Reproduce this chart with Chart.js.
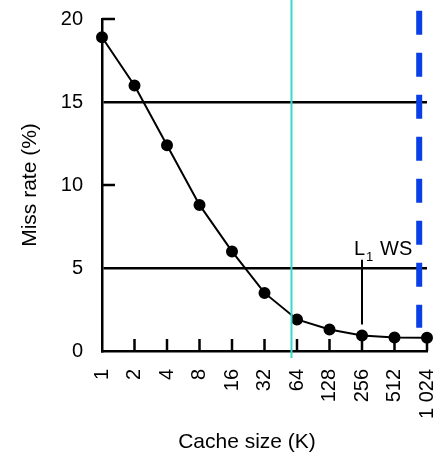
<!DOCTYPE html>
<html>
<head>
<meta charset="utf-8">
<script src="https://cdn.jsdelivr.net/npm/chart.js@4"></script>
<style>
  body { margin: 0; background: #fff; }
  #wrap { width: 437px; height: 453px; }
</style>
</head>
<body>
<div id="wrap"><canvas id="missChart" width="437" height="453"></canvas></div>
<script>
const cacheSizes = ["1", "2", "4", "8", "16", "32", "64", "128", "256", "512", "1 024"];
const missRates = [18.9, 16.0, 12.4, 8.8, 6.0, 3.5, 1.9, 1.3, 0.93, 0.82, 0.8];
const yTicks = [0, 5, 10, 15, 20];

// marker positions, in category-index units
const l1CacheAt = 5.83;
const workingSetAt = 9.76;
const wsLabelIndex = 8;

const FONT = "'Liberation Sans', Arial, sans-serif";

// keep the plot box fixed: no extra room for label overhang
function noOverhang(scale) {
  scale.paddingLeft = 0;
  scale.paddingRight = 0;
  scale.paddingTop = 0;
  scale.paddingBottom = 0;
}

/*
 EXTRA DRAWING: inward ticks, markers, annotation, axis titles
*/
const overlay = {
  id: "overlay",
  afterDraw(chart) {
    const { ctx, scales } = chart;
    const x = scales.x;
    const y = scales.y;
    const x0 = x.left;
    const y0 = y.getPixelForValue(0);

    ctx.save();
    ctx.strokeStyle = "#000";
    ctx.lineWidth = 2.5;

    // x ticks pointing up into the plot
    for (let i = 1; i < cacheSizes.length; i++) {
      const px = x.getPixelForValue(i);
      ctx.beginPath();
      ctx.moveTo(px, y0);
      ctx.lineTo(px, y0 - 12);
      ctx.stroke();
    }

    // y ticks at 10 and 20 pointing right
    [10, 20].forEach(v => {
      const py = y.getPixelForValue(v);
      ctx.beginPath();
      ctx.moveTo(x0, py);
      ctx.lineTo(x0 + 13, py);
      ctx.stroke();
    });

    // L1 cache size marker
    const cx = x.getPixelForValue(l1CacheAt);
    ctx.strokeStyle = "#3ad9c8";
    ctx.lineWidth = 2;
    ctx.beginPath();
    ctx.moveTo(cx, 0);
    ctx.lineTo(cx, y0 + 7);
    ctx.stroke();

    // working set marker
    const wx = x.getPixelForValue(workingSetAt);
    ctx.strokeStyle = "#0a3fe6";
    ctx.lineWidth = 6;
    ctx.setLineDash([24, 18]);
    ctx.beginPath();
    ctx.moveTo(wx, y.getPixelForValue(20.5));
    ctx.lineTo(wx, y.getPixelForValue(1.4));
    ctx.stroke();
    ctx.setLineDash([]);

    // "L1 WS" label with leader line down to the 256 point
    const lx = x.getPixelForValue(wsLabelIndex);
    ctx.strokeStyle = "#000";
    ctx.lineWidth = 2;
    ctx.beginPath();
    ctx.moveTo(lx, y.getPixelForValue(5.5));
    ctx.lineTo(lx, y.getPixelForValue(1.6));
    ctx.stroke();

    ctx.fillStyle = "#000";
    ctx.textBaseline = "alphabetic";
    ctx.textAlign = "left";
    ctx.font = "20px " + FONT;
    const baseY = y.getPixelForValue(5.8);
    ctx.fillText("L", lx - 8, baseY);
    ctx.font = "13px " + FONT;
    ctx.fillText("1", lx + 4, baseY + 6);
    ctx.font = "20px " + FONT;
    ctx.fillText("WS", lx + 18, baseY);

    // axis titles
    ctx.font = "21px " + FONT;
    ctx.textAlign = "center";
    ctx.fillText("Cache size (K)", 247, 448);

    ctx.translate(36, (y.top + y.bottom) / 2);
    ctx.rotate(-Math.PI / 2);
    ctx.fillText("Miss rate (%)", 0, 0);
    ctx.restore();
  }
};

/*
 CHART
*/
const chartCtx = document.getElementById("missChart").getContext("2d");

new Chart(chartCtx, {
  type: "line",
  data: {
    labels: cacheSizes,
    datasets: [
      {
        label: "Miss rate",
        data: missRates,
        borderColor: "#000",
        borderWidth: 2,
        backgroundColor: "#000",
        pointRadius: 5,
        pointHoverRadius: 5,
        tension: 0
      }
    ]
  },
  options: {
    responsive: false,
    animation: false,
    events: [],
    layout: {
      padding: { top: 19, right: 10, left: 0, bottom: 0 }
    },
    plugins: {
      legend: { display: false },
      tooltip: { enabled: false }
    },
    scales: {
      x: {
        offset: false,
        grid: { display: false },
        border: { display: true, color: "#000", width: 2.5 },
        ticks: {
          color: "#000",
          font: { family: FONT, size: 20 },
          minRotation: 90,
          maxRotation: 90,
          padding: 10,
          autoSkip: false
        },
        afterFit(scale) {
          scale.height = 102;
          noOverhang(scale);
        }
      },
      y: {
        min: 0,
        max: 20,
        afterBuildTicks(scale) {
          scale.ticks = yTicks.map(v => ({ value: v }));
        },
        grid: {
          drawTicks: false,
          lineWidth: 2.5,
          color: c => (c.tick && (c.tick.value === 5 || c.tick.value === 15)) ? "#000" : "rgba(0,0,0,0)"
        },
        border: { display: true, color: "#000", width: 2.5 },
        ticks: {
          color: "#000",
          font: { family: FONT, size: 20 },
          padding: 19
        },
        afterFit(scale) {
          scale.width = 102;
          noOverhang(scale);
        }
      }
    }
  },
  plugins: [overlay]
});
</script>
</body>
</html>
